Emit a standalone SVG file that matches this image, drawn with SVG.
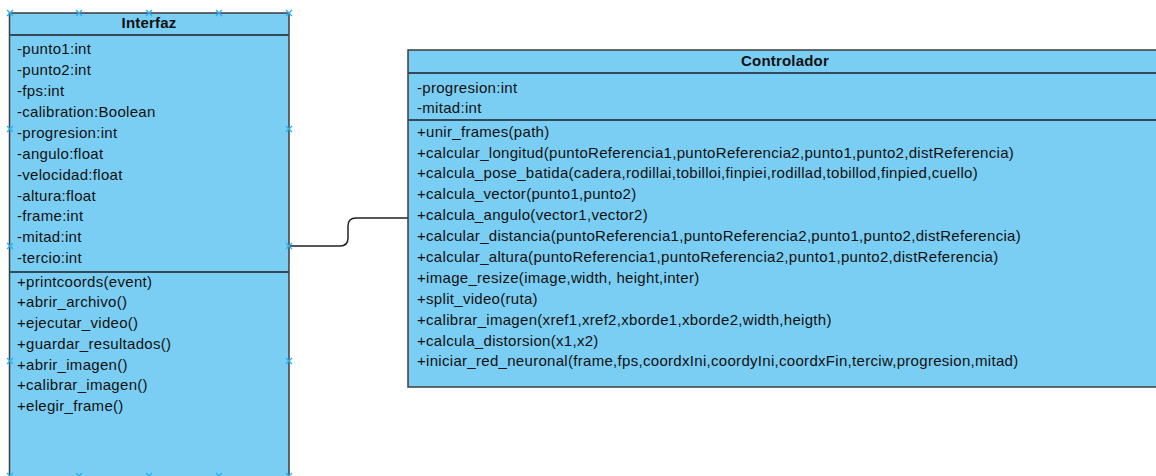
<svg xmlns="http://www.w3.org/2000/svg" width="1156" height="476" viewBox="0 0 1156 476">
  <style>
    .box { fill: #7bcef3; stroke: #3c3c3c; stroke-width: 1.5; }
    .div { stroke: #34495a; stroke-width: 2; fill: none; }
    .title { font-family: "Liberation Sans", Arial, sans-serif; font-size: 15px; font-weight: bold; fill: #111; text-anchor: middle; letter-spacing: 0.2px; }
    .item { font-family: "Liberation Sans", Arial, sans-serif; font-size: 15px; letter-spacing: 0.3px; fill: #111; }
    .link { fill: none; stroke: #222; stroke-width: 1.5; }
    .handle { stroke: #29b0ee; stroke-width: 1.3; fill: none; }
  </style>
  <defs>
    <path id="x" class="handle" d="M-3,-3 L3,3 M-3,3 L3,-3"/>
  </defs>
  <rect width="1156" height="476" fill="#ffffff"/>

  <g id="connectors">
    <path class="link" d="M289,246 H340 Q348,246 348,238 V226 Q348,218 356,218 H408"/>
  </g>

  <g id="interfaz">
    <rect class="box" x="9.5" y="13" width="279.5" height="470"/>
    <line class="div" x1="9.5" y1="35" x2="289" y2="35"/>
    <line class="div" x1="9.5" y1="272" x2="289" y2="272"/>
    <text class="title" x="149" y="28">Interfaz</text>
    <g class="item">
      <text x="17" y="54">-punto1:int</text>
      <text x="17" y="75">-punto2:int</text>
      <text x="17" y="96">-fps:int</text>
      <text x="17" y="117">-calibration:Boolean</text>
      <text x="17" y="138">-progresion:int</text>
      <text x="17" y="159">-angulo:float</text>
      <text x="17" y="180">-velocidad:float</text>
      <text x="17" y="201">-altura:float</text>
      <text x="17" y="221">-frame:int</text>
      <text x="17" y="242">-mitad:int</text>
      <text x="17" y="263">-tercio:int</text>
      <text x="17" y="287">+printcoords(event)</text>
      <text x="17" y="307">+abrir_archivo()</text>
      <text x="17" y="328">+ejecutar_video()</text>
      <text x="17" y="349">+guardar_resultados()</text>
      <text x="17" y="370">+abrir_imagen()</text>
      <text x="17" y="390">+calibrar_imagen()</text>
      <text x="17" y="411">+elegir_frame()</text>
    </g>
    <g id="interfaz-handles">
      <use href="#x" x="10" y="13"/>
      <use href="#x" x="79" y="13"/>
      <use href="#x" x="149" y="13"/>
      <use href="#x" x="219" y="13"/>
      <use href="#x" x="289" y="13"/>
      <use href="#x" x="10" y="129"/>
      <use href="#x" x="289" y="129"/>
      <use href="#x" x="10" y="246"/>
      <use href="#x" x="289" y="246"/>
      <use href="#x" x="10" y="361"/>
      <use href="#x" x="289" y="361"/>
      <use href="#x" x="10" y="476"/>
      <use href="#x" x="79" y="476"/>
      <use href="#x" x="149" y="476"/>
      <use href="#x" x="219" y="476"/>
      <use href="#x" x="289" y="476"/>
    </g>
  </g>

  <g id="controlador">
    <rect class="box" x="408" y="50" width="760" height="337"/>
    <line class="div" x1="408" y1="73" x2="1168" y2="73"/>
    <line class="div" x1="408" y1="120" x2="1168" y2="120"/>
    <text class="title" x="785" y="66">Controlador</text>
    <g class="item">
      <text x="417" y="93">-progresion:int</text>
      <text x="417" y="113">-mitad:int</text>
      <text x="417" y="137">+unir_frames(path)</text>
      <text x="417" y="158">+calcular_longitud(puntoReferencia1,puntoReferencia2,punto1,punto2,distReferencia)</text>
      <text x="417" y="178">+calcula_pose_batida(cadera,rodillai,tobilloi,finpiei,rodillad,tobillod,finpied,cuello)</text>
      <text x="417" y="199">+calcula_vector(punto1,punto2)</text>
      <text x="417" y="220">+calcula_angulo(vector1,vector2)</text>
      <text x="417" y="241">+calcular_distancia(puntoReferencia1,puntoReferencia2,punto1,punto2,distReferencia)</text>
      <text x="417" y="262">+calcular_altura(puntoReferencia1,puntoReferencia2,punto1,punto2,distReferencia)</text>
      <text x="417" y="283">+image_resize(image,width, height,inter)</text>
      <text x="417" y="304">+split_video(ruta)</text>
      <text x="417" y="325">+calibrar_imagen(xref1,xref2,xborde1,xborde2,width,heigth)</text>
      <text x="417" y="346">+calcula_distorsion(x1,x2)</text>
      <text x="417" y="366">+iniciar_red_neuronal(frame,fps,coordxIni,coordyIni,coordxFin,terciw,progresion,mitad)</text>
    </g>
  </g>
</svg>
